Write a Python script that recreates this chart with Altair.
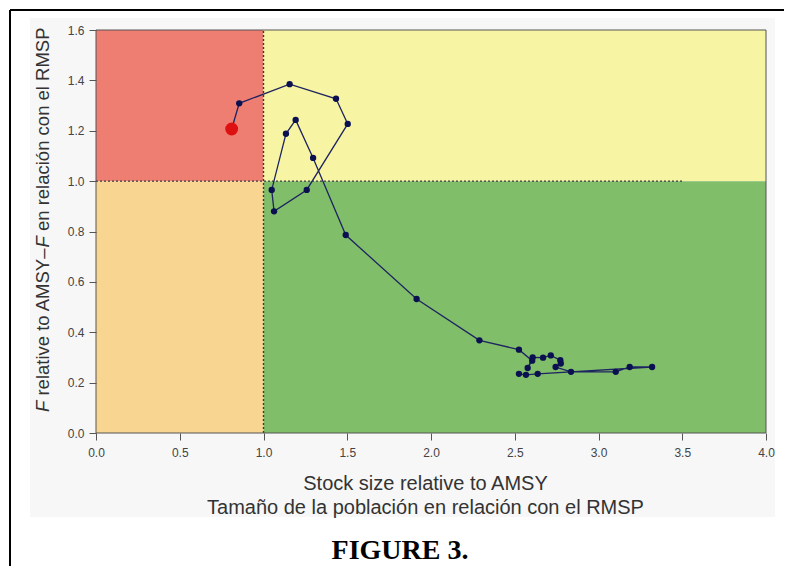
import altair as alt
import pandas as pd

# ---- data ----
traj_x = [2.525, 2.567, 2.637, 3.320, 3.186, 3.103, 2.836, 2.744, 2.775, 2.772, 2.715,
          2.669, 2.607, 2.577, 2.604, 2.525, 2.289, 1.914, 1.491, 1.296, 1.192, 1.134,
          1.049, 1.063, 1.258, 1.503, 1.433, 1.156, 0.855, 0.810]
traj_y = [0.235, 0.231, 0.235, 0.262, 0.262, 0.243, 0.243, 0.262, 0.276, 0.289, 0.308,
          0.299, 0.300, 0.258, 0.287, 0.331, 0.368, 0.532, 0.786, 1.092, 1.243, 1.188,
          0.965, 0.880, 0.965, 1.227, 1.327, 1.385, 1.309, 1.207]

zone_x1 = [0, 1, 0, 1]
zone_x2 = [1, 4, 1, 4]
zone_y1 = [1.0, 1.0, 0.0, 0.0]
zone_y2 = [1.6, 1.6, 1.0, 1.0]
zone_color = ["#EE7D72", "#F7F4A3", "#F8D590", "#80BE6A"]

ref_x1 = [1.0, 0.0]
ref_x2 = [1.0, 3.5]
ref_y1 = [0.0, 1.0]
ref_y2 = [1.6, 1.0]

x_ticks = [0.0, 0.5, 1.0, 1.5, 2.0, 2.5, 3.0, 3.5, 4.0]
y_ticks = [0.0, 0.2, 0.4, 0.6, 0.8, 1.0, 1.2, 1.4, 1.6]
x_domain = [0, 4]
y_domain = [0, 1.6]

x_title = ["Stock size relative to AMSY", "Tamaño de la población en relación con el RMSP"]
y_title_parts = [("F", "italic"), (" relative to AMSY\u2013", "normal"),
                 ("F", "italic"), (" en relación con el RMSP", "normal")]
caption = "FIGURE 3."

# ---- frames ----
traj = pd.DataFrame({"x": traj_x, "y": traj_y, "order": list(range(len(traj_x)))})
zones = pd.DataFrame({"x": zone_x1, "x2": zone_x2, "y": zone_y1, "y2": zone_y2, "c": zone_color})
refs = pd.DataFrame({"x": ref_x1, "x2": ref_x2, "y": ref_y1, "y2": ref_y2})
box = pd.DataFrame({"x": [x_domain[0]], "x2": [x_domain[1]], "y": [y_domain[0]], "y2": [y_domain[1]]})
last = traj.tail(1)

W, H = 670, 403
FONT = "Liberation Sans"

xscale = alt.Scale(domain=x_domain, nice=False, zero=False)
yscale = alt.Scale(domain=y_domain, nice=False, zero=False)

xaxis = alt.Axis(values=x_ticks, format=".1f", grid=False, domain=False, zindex=1,
                 tickSize=7, tickColor="#555555", tickWidth=1, labelFlush=False,
                 labelFont=FONT, labelFontSize=12, labelColor="#444444", labelPadding=7,
                 title=x_title, titleFont=FONT, titleFontSize=20, titleFontWeight="normal",
                 titleColor="#333333", titlePadding=15, titleLineHeight=24,
                 titleX=329, titleAlign="center")
yaxis = alt.Axis(values=y_ticks, format=".1f", grid=False, domain=False, zindex=1,
                 tickSize=7, tickColor="#555555", tickWidth=1, labelFlush=False,
                 labelFont=FONT, labelFontSize=12, labelColor="#444444", labelPadding=5,
                 title=None)

X = alt.X("x:Q", scale=xscale, axis=xaxis)
Y = alt.Y("y:Q", scale=yscale, axis=yaxis)

# light grey figure background (annotation area)
bg = alt.Chart(pd.DataFrame({"a": [0]})).mark_rect(fill="#F7F7F7").encode(
    x=alt.value(-66), x2=alt.value(679), y=alt.value(-12), y2=alt.value(487))

zone_layer = alt.Chart(zones).mark_rect().encode(
    x=X, x2="x2:Q", y=Y, y2="y2:Q", color=alt.Color("c:N", scale=None))

ref_layer = alt.Chart(refs).mark_rule(color="#3A3A3A", strokeWidth=1.4, strokeDash=[2, 2]).encode(
    x=X, x2="x2:Q", y=Y, y2="y2:Q")

box_layer = alt.Chart(box).mark_rect(fill=None, stroke="#555555", strokeWidth=1).encode(
    x=X, x2="x2:Q", y=Y, y2="y2:Q")

line_layer = alt.Chart(traj).mark_line(color="#1E2460", strokeWidth=1.3).encode(
    x=X, y=Y, order="order:Q")

pt_layer = alt.Chart(traj.iloc[:-1]).mark_circle(color="#0B1050", opacity=1, size=40).encode(
    x=X, y=Y)

last_layer = alt.Chart(last).mark_circle(color="#DD1111", opacity=1, size=165).encode(
    x=X, y=Y)

# y-axis title in pieces (italic F); SVG drops leading spaces, so offset instead
fs = 18.5
def text_width(s):
    w = {"F": 611, " ": 278, "r": 333, "e": 556, "l": 222, "a": 556, "t": 278, "i": 222,
         "v": 500, "o": 556, "A": 667, "M": 833, "S": 667, "Y": 667, "\u2013": 556,
         "n": 556, "c": 500, "ó": 556, "R": 722, "P": 667}
    return sum(w.get(ch, 556) for ch in s) / 1000 * fs

layers_title = []
ypos = 382
for txt, style in y_title_parts:
    lead = len(txt) - len(txt.lstrip(" "))
    start = ypos - text_width(" " * lead)
    layers_title.append(
        alt.Chart(pd.DataFrame({"t": [txt.strip(" ")]})).mark_text(
            angle=270, align="left", baseline="middle", font=FONT, fontSize=fs,
            fontStyle=style, color="#333333").encode(
            x=alt.value(-53), y=alt.value(start), text="t:N"))
    ypos -= text_width(txt)

cap_layer = alt.Chart(pd.DataFrame({"t": [caption]})).mark_text(
    align="center", baseline="middle", font="Liberation Serif", fontSize=28,
    fontWeight="bold", color="#000000").encode(
    x=alt.value(304), y=alt.value(521), text="t:N")

frame_top = alt.Chart(pd.DataFrame({"a": [0]})).mark_rule(color="#000000", strokeWidth=2).encode(
    x=alt.value(-86), x2=alt.value(700), y=alt.value(-20))
frame_left = alt.Chart(pd.DataFrame({"a": [0]})).mark_rule(color="#000000", strokeWidth=2).encode(
    x=alt.value(-86), y=alt.value(-20), y2=alt.value(560))

chart = alt.layer(
    bg, zone_layer, ref_layer, box_layer, line_layer, pt_layer, last_layer,
    *layers_title, cap_layer, frame_top, frame_left
).properties(
    width=W, height=H,
    autosize=alt.AutoSizeParams(type="none"),
    padding={"left": 88, "top": 22, "right": 18, "bottom": 133},
    background="white",
).configure_view(stroke=None)

chart.save("out.html", embed_options={"renderer": "svg", "actions": False})
